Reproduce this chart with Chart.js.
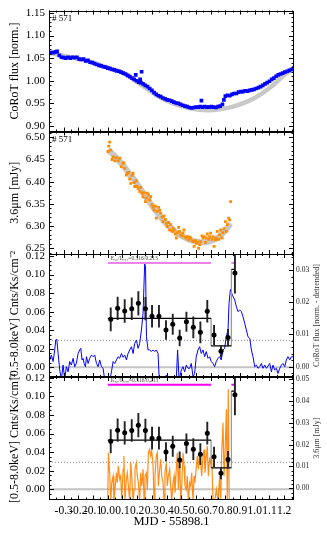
<!DOCTYPE html>
<html>
<head>
<meta charset="utf-8">
<title>#571 CoRoT / 3.6um / X-ray</title>
<script src="https://cdn.jsdelivr.net/npm/chart.js@4.4.1/dist/chart.umd.min.js"></script>
<style>
  html, body { margin: 0; padding: 0; background: #fff; }
  #stack { position: relative; width: 327px; height: 534px; }
  #stack canvas { position: absolute; left: 0; top: 0; }
</style>
</head>
<body>
<div id="stack">
  <canvas id="corot" width="327" height="534"></canvas>
  <canvas id="irac" width="327" height="534"></canvas>
  <canvas id="xrayCorot" width="327" height="534"></canvas>
  <canvas id="xrayIrac" width="327" height="534"></canvas>
</div>
<script>
// ---- data (MJD - 55898.1) ----
const X_MIN = -0.40, X_MAX = 1.267;
const xTicks = [-0.3, -0.2, -0.1, 0.0, 0.1, 0.2, 0.3, 0.4, 0.5, 0.6, 0.7, 0.8, 0.9, 1.0, 1.1, 1.2];

// CoRoT flux [norm.]
const corotX = [-0.400,-0.385,-0.370,-0.355,-0.345,-0.330,-0.315,-0.300,-0.285,-0.270,-0.255,-0.240,-0.225,-0.210,-0.195,-0.180,-0.165,-0.150,-0.135,-0.120,-0.105,-0.090,-0.075,-0.060,-0.045,-0.030,-0.015,0.000,0.015,0.030,0.045,0.060,0.075,0.090,0.105,0.120,0.135,0.150,0.165,0.180,0.190,0.195,0.210,0.220,0.225,0.230,0.240,0.255,0.270,0.285,0.300,0.315,0.330,0.345,0.360,0.375,0.390,0.405,0.420,0.435,0.450,0.465,0.480,0.495,0.510,0.525,0.540,0.555,0.570,0.585,0.600,0.615,0.630,0.637,0.645,0.660,0.675,0.690,0.705,0.720,0.735,0.750,0.765,0.780,0.790,0.800,0.815,0.830,0.845,0.860,0.875,0.890,0.905,0.920,0.935,0.950,0.965,0.980,0.995,1.010,1.025,1.040,1.055,1.070,1.085,1.100,1.115,1.130,1.145,1.160,1.175,1.190,1.205,1.220,1.235,1.250,1.265];
const corotY = [1.061,1.062,1.062,1.064,1.065,1.056,1.052,1.051,1.050,1.052,1.050,1.052,1.051,1.052,1.048,1.047,1.048,1.044,1.045,1.041,1.040,1.038,1.036,1.034,1.033,1.031,1.030,1.028,1.027,1.025,1.024,1.022,1.021,1.019,1.017,1.015,1.012,1.009,1.006,1.003,1.013,1.000,0.997,1.003,0.996,1.020,0.993,0.990,0.987,0.983,0.979,0.974,0.970,0.967,0.965,0.962,0.960,0.958,0.957,0.955,0.953,0.951,0.950,0.948,0.946,0.944,0.943,0.941,0.940,0.941,0.942,0.942,0.943,0.956,0.942,0.943,0.942,0.942,0.943,0.942,0.941,0.943,0.944,0.948,0.958,0.966,0.968,0.967,0.970,0.972,0.972,0.975,0.976,0.976,0.978,0.977,0.979,0.980,0.981,0.983,0.985,0.987,0.990,0.993,0.996,0.999,1.003,1.006,1.010,1.013,1.015,1.017,1.019,1.021,1.023,1.025,1.028];
const corotModelX = [-0.40,-0.30,-0.20,-0.10,0.00,0.10,0.20,0.30,0.40,0.50,0.60,0.70,0.80,0.90,1.00,1.10,1.20,1.267];
const corotModelY = [1.062,1.055,1.048,1.040,1.029,1.018,0.997,0.975,0.956,0.944,0.937,0.935,0.939,0.948,0.962,0.984,1.012,1.028];
const corotTicks = [0.90, 0.95, 1.00, 1.05, 1.10, 1.15];

// 3.6um [mJy]
const iracX = [0.002,0.006,0.013,0.020,0.029,0.036,0.047,0.058,0.070,0.081,0.092,0.104,0.108,0.115,0.126,0.133,0.142,0.149,0.156,0.165,0.172,0.178,0.183,0.194,0.199,0.206,0.217,0.224,0.233,0.240,0.246,0.256,0.262,0.269,0.278,0.285,0.292,0.301,0.308,0.315,0.324,0.330,0.337,0.346,0.353,0.360,0.369,0.376,0.383,0.392,0.398,0.405,0.414,0.421,0.428,0.437,0.444,0.451,0.460,0.466,0.473,0.482,0.489,0.496,0.505,0.512,0.518,0.527,0.534,0.541,0.550,0.557,0.564,0.573,0.580,0.587,0.596,0.602,0.609,0.618,0.625,0.632,0.641,0.648,0.655,0.664,0.670,0.677,0.686,0.693,0.700,0.709,0.716,0.723,0.732,0.738,0.745,0.754,0.761,0.768,0.777,0.784,0.791,0.800,0.807,0.813,0.822,0.829,0.836];
const iracY = [6.468,6.480,6.489,6.471,6.450,6.456,6.447,6.454,6.447,6.453,6.434,6.441,6.443,6.430,6.415,6.419,6.421,6.406,6.396,6.414,6.419,6.398,6.389,6.402,6.390,6.385,6.378,6.387,6.374,6.366,6.375,6.355,6.363,6.374,6.370,6.359,6.366,6.348,6.342,6.336,6.345,6.318,6.333,6.342,6.336,6.329,6.320,6.310,6.323,6.315,6.306,6.299,6.308,6.291,6.303,6.288,6.295,6.291,6.282,6.273,6.285,6.297,6.288,6.280,6.278,6.284,6.291,6.275,6.273,6.276,6.269,6.275,6.273,6.267,6.265,6.254,6.267,6.261,6.264,6.250,6.258,6.265,6.278,6.273,6.276,6.263,6.273,6.282,6.270,6.276,6.284,6.270,6.276,6.254,6.269,6.273,6.288,6.270,6.280,6.291,6.273,6.285,6.294,6.310,6.288,6.303,6.318,6.314,6.355];
const iracModelX = [0.00,0.05,0.10,0.15,0.20,0.25,0.30,0.35,0.40,0.45,0.50,0.55,0.60,0.65,0.70,0.75,0.80,0.835];
const iracModelY = [6.472,6.457,6.438,6.417,6.395,6.370,6.346,6.324,6.305,6.290,6.278,6.270,6.265,6.263,6.266,6.274,6.290,6.306];
const iracTicks = [6.25, 6.30, 6.35, 6.40, 6.45, 6.50];

// X-ray rate [0.5-8.0 keV] in 4 ks bins, with Bayesian-block levels
const xrayX = [0.020,0.067,0.115,0.163,0.208,0.256,0.301,0.348,0.396,0.442,0.489,0.535,0.582,0.630,0.677,0.723,0.770,0.818,0.865];
const xrayY = [0.0517,0.0636,0.0607,0.0632,0.0690,0.0632,0.0550,0.0550,0.0402,0.0464,0.0316,0.0492,0.0431,0.0377,0.0604,0.0349,0.0172,0.0320,0.1017];
const xrayErr = [0.0129,0.0126,0.0126,0.0122,0.0131,0.0126,0.0122,0.0122,0.0104,0.0113,0.0090,0.0108,0.0117,0.0117,0.0122,0.0108,0.0063,0.0093,0.0220];
const stepEdges = [0.000, 0.703, 0.841, 0.864, 0.950];
const stepLevels = [0.0528, 0.0230, 0.1056, 0.1600];
const bandStart = [0.000, 0.841];
const bandEnd = [0.703, 0.864];
const bandLevel = 0.1125;
const dottedLevel = 0.029;
const zeroLevel = 0.0;
const xrayTicks = [0.00, 0.02, 0.04, 0.06, 0.08, 0.10, 0.12];

// CoRoT flux [norm. - detrended]
const corotDetX = [-0.402,-0.395,-0.384,-0.372,-0.361,-0.354,-0.347,-0.338,-0.327,-0.316,-0.304,-0.293,-0.282,-0.270,-0.259,-0.248,-0.236,-0.225,-0.214,-0.202,-0.191,-0.184,-0.175,-0.168,-0.161,-0.152,-0.145,-0.134,-0.123,-0.111,-0.100,-0.089,-0.077,-0.066,-0.055,-0.043,-0.032,-0.021,0.002,0.014,0.025,0.036,0.047,0.059,0.070,0.081,0.093,0.104,0.115,0.127,0.138,0.149,0.161,0.172,0.183,0.195,0.206,0.217,0.229,0.240,0.251,0.257,0.263,0.274,0.285,0.297,0.308,0.319,0.330,0.342,0.350,0.376,0.399,0.421,0.466,0.475,0.485,0.501,0.512,0.523,0.534,0.546,0.557,0.568,0.580,0.591,0.602,0.614,0.625,0.636,0.648,0.659,0.670,0.682,0.693,0.704,0.716,0.727,0.738,0.750,0.761,0.772,0.784,0.795,0.806,0.818,0.825,0.834,0.848,0.864,0.875,0.886,0.898,0.909,0.920,0.932,0.943,0.954,0.966,0.977,0.988,1.000,1.011,1.022,1.034,1.045,1.056,1.068,1.079,1.090,1.102,1.113,1.124,1.136,1.147,1.158,1.170,1.181,1.192,1.204,1.215,1.226,1.238,1.249,1.260,1.267];
const corotDetY = [0.0024,0.0021,0.0036,0.0016,0.0052,0.0083,0.0085,0.0041,-0.0010,-0.0040,0.0005,-0.0040,0.0000,-0.0016,0.0016,0.0005,0.0026,0.0000,0.0010,0.0041,0.0052,0.0057,0.0021,0.0026,0.0010,0.0000,0.0031,0.0010,0.0026,0.0036,0.0031,0.0036,0.0010,0.0000,0.0021,0.0000,-0.0005,-0.0040,-0.0040,-0.0040,-0.0016,0.0016,0.0010,0.0021,0.0031,0.0026,0.0041,0.0029,0.0036,0.0021,0.0041,0.0052,0.0062,0.0041,0.0072,0.0083,0.0057,0.0072,0.0114,0.0166,0.0320,0.0310,0.0093,0.0052,0.0052,0.0047,0.0052,0.0047,0.0052,0.0041,-0.0040,-0.0040,-0.0026,-0.0040,-0.0040,0.0052,-0.0040,-0.0010,0.0000,-0.0016,0.0005,-0.0005,-0.0005,0.0010,-0.0031,-0.0021,0.0031,0.0052,0.0062,0.0041,0.0052,0.0031,0.0047,0.0026,0.0031,0.0016,0.0010,0.0000,0.0016,0.0026,0.0031,0.0021,0.0052,0.0057,0.0093,0.0114,0.0197,0.0240,0.0222,0.0207,0.0186,0.0171,0.0176,0.0171,0.0155,0.0134,0.0114,0.0093,0.0088,0.0052,0.0031,0.0000,0.0005,-0.0005,0.0000,0.0010,-0.0005,0.0005,-0.0005,0.0002,0.0010,-0.0016,0.0005,-0.0010,-0.0005,-0.0021,-0.0005,0.0005,0.0010,0.0000,0.0021,0.0031,0.0021,0.0031,0.0031,0.0036];
const corotDetTicks = [0.00, 0.01, 0.02, 0.03];

// 3.6um [mJy] detrended
const iracDetX = [0.000,0.004,0.014,0.020,0.027,0.036,0.042,0.049,0.059,0.065,0.072,0.081,0.088,0.095,0.104,0.110,0.117,0.126,0.133,0.140,0.149,0.156,0.163,0.172,0.179,0.185,0.194,0.201,0.208,0.217,0.224,0.231,0.240,0.247,0.253,0.262,0.269,0.276,0.285,0.292,0.299,0.308,0.315,0.321,0.330,0.337,0.344,0.353,0.360,0.367,0.376,0.383,0.389,0.398,0.405,0.412,0.421,0.428,0.435,0.444,0.451,0.457,0.466,0.473,0.480,0.489,0.496,0.503,0.512,0.519,0.525,0.534,0.541,0.548,0.557,0.564,0.571,0.580,0.587,0.593,0.603,0.609,0.616,0.625,0.632,0.639,0.648,0.655,0.661,0.671,0.677,0.684,0.693,0.700,0.707,0.716,0.727,0.739,0.750,0.761,0.768,0.775,0.784,0.791,0.798,0.807,0.813,0.820,0.826];
const iracDetY = [-0.006,0.0163,0.0056,-0.006,0.0026,0.0056,-0.006,-0.0005,0.0071,0.0026,0.0102,0.0041,0.0056,-0.006,0.0087,0.0148,-0.006,0.0041,0.0071,0.0011,-0.006,0.0117,0.0056,-0.006,-0.0005,0.0087,0.0117,0.0056,0.0026,-0.006,0.0071,0.0011,0.0087,-0.006,0.0056,0.0071,-0.0005,0.0163,0.0178,0.0148,0.0171,0.0102,-0.006,0.0056,0.0148,0.0163,0.0011,0.0087,0.0133,0.0056,0.0026,-0.006,0.0071,0.0117,0.0011,0.0056,0.0087,0.0011,-0.006,0.0026,0.0056,-0.0020,0.0087,0.0163,-0.0005,0.0148,-0.006,0.0011,0.0163,0.0102,0.0011,-0.0005,0.0056,-0.006,0.0026,0.0011,0.0071,-0.006,0.0056,0.0026,0.0102,0.0148,0.0087,0.0163,0.0117,0.0056,0.0148,0.0178,0.0071,0.0148,0.0194,0.0056,0.0133,0.0117,0.0148,-0.006,-0.006,-0.0005,-0.006,0.0056,-0.006,0.0163,0.0300,0.0056,0.0163,0.0361,-0.006,0.0453,-0.006];
const iracDetTicks = [0.00, 0.01, 0.02, 0.03, 0.04, 0.05];

// ---- helpers ----
Chart.defaults.font.family = 'Liberation Serif';
Chart.defaults.color = '#000';
const serif = size => ({ family: 'Liberation Serif', size });
const pairs = (xs, ys) => xs.map((x, i) => ({ x, y: ys[i] }));
const hline = v => [{ x: X_MIN, y: v }, { x: X_MAX, y: v }];

function errorBars() {
  const out = [];
  xrayX.forEach((x, i) => {
    out.push({ x, y: xrayY[i] - xrayErr[i] }, { x, y: xrayY[i] + xrayErr[i] }, { x, y: null });
  });
  return out;
}
function stepFlat() {
  const out = [];
  stepLevels.forEach((lv, i) => {
    out.push({ x: stepEdges[i], y: lv }, { x: stepEdges[i + 1], y: lv }, { x: stepEdges[i + 1], y: null });
  });
  return out;
}
function stepRise() {
  const out = [];
  for (let i = 1; i < stepLevels.length; i++) {
    out.push({ x: stepEdges[i], y: stepLevels[i - 1] }, { x: stepEdges[i], y: stepLevels[i] }, { x: stepEdges[i], y: null });
  }
  return out;
}
function bands() {
  const out = [];
  bandStart.forEach((s, i) => out.push({ x: s, y: bandLevel }, { x: bandEnd[i], y: bandLevel }, { x: s, y: null }));
  return out;
}

// inward tick marks, frame and the small annotations
const framePlugin = {
  id: 'frame',
  afterDatasetsDraw(chart, args, o) {
    const { ctx, chartArea: a, scales } = chart;
    const line = (x1, y1, x2, y2) => { ctx.beginPath(); ctx.moveTo(x1, y1); ctx.lineTo(x2, y2); ctx.stroke(); };
    const marks = (scale, step, fn) => {
      for (let k = Math.ceil(scale.min / step - 1e-6); k * step <= scale.max + 1e-9; k++) {
        fn(Math.round(scale.getPixelForValue(k * step)) + 0.5);
      }
    };
    ctx.save();
    ctx.strokeStyle = '#000';
    ctx.lineWidth = 1;
    [[0.05, 2], [0.1, 4]].forEach(([step, len]) => marks(scales.x, step, p => {
      line(p, a.bottom, p, a.bottom - len);
      line(p, a.top, p, a.top + len);
    }));
    const yr = scales.y2 || scales.y;
    [[o.yMinor, 2.5], [o.yMajor, 5]].forEach(([step, len]) => marks(scales.y, step, p => line(a.left, p, a.left + len, p)));
    [[o.y2Minor || o.yMinor, 2.5], [o.y2Major || o.yMajor, 5]].forEach(([step, len]) => marks(yr, step, p => line(a.right, p, a.right - len, p)));
    ctx.strokeRect(Math.round(a.left) + 0.5, Math.round(a.top) + 0.5, Math.round(a.right - a.left) - 1, Math.round(a.bottom - a.top) - 1);

    ctx.fillStyle = '#000';
    if (o.corner) {
      ctx.font = '9px "Liberation Serif"';
      ctx.textAlign = 'left';
      ctx.textBaseline = 'alphabetic';
      ctx.fillText(o.corner, a.left + 3, a.top + 10);
    }
    if (o.rightTitle) {
      ctx.save();
      ctx.translate(316.5, (a.top + a.bottom) / 2);
      ctx.rotate(-Math.PI / 2);
      ctx.font = '8px "Liberation Serif"';
      ctx.fillStyle = '#333';
      ctx.textAlign = 'center';
      ctx.textBaseline = 'middle';
      ctx.fillText(o.rightTitle, 0, 0);
      ctx.restore();
    }
    if (o.note) {
      ctx.font = '5.5px "Liberation Serif"';
      ctx.fillStyle = '#444';
      ctx.textAlign = 'left';
      ctx.textBaseline = 'alphabetic';
      ctx.fillText(o.note, scales.x.getPixelForValue(0.02), scales.y.getPixelForValue(bandLevel) - 2.5);
    }
    ctx.restore();
  }
};

function xAxis(bottom) {
  const ax = {
    type: 'linear', min: X_MIN, max: X_MAX, display: bottom,
    afterBuildTicks: s => { s.ticks = xTicks.map(v => ({ value: v })); },
    grid: { display: false, drawTicks: false }, border: { display: false },
    ticks: { autoSkip: false, maxRotation: 0, minRotation: 0, padding: 5, font: serif(11.5), color: '#000', callback: v => v.toFixed(1) },
    title: { display: true, text: 'MJD - 55898.1', font: serif(12.5), color: '#000', padding: { top: 0, bottom: 5 } }
  };
  if (bottom) ax.afterFit = s => { s.height = 34.5; };
  return ax;
}
function leftAxis(min, max, ticks, title) {
  return {
    type: 'linear', position: 'left', min, max,
    afterBuildTicks: s => { s.ticks = ticks.map(v => ({ value: v })); },
    afterFit: s => { s.width = 49; },
    grid: { display: false, drawTicks: false }, border: { display: false },
    ticks: { padding: 4, font: serif(11), color: '#000', callback: v => v.toFixed(2) },
    title: { display: true, text: title, font: serif(12), color: '#000', padding: { top: 8, bottom: 0 } }
  };
}
function rightAxis(min, max, ticks) {
  return {
    type: 'linear', position: 'right', min, max,
    afterBuildTicks: s => { s.ticks = ticks.map(v => ({ value: v })); },
    afterFit: s => { s.width = 33; },
    grid: { display: false, drawTicks: false }, border: { display: false },
    ticks: { padding: 2, font: serif(7.5), color: '#222', callback: v => v.toFixed(2) }
  };
}

function panel(id, top, bottom, scales, datasets, frame) {
  return new Chart(document.getElementById(id), {
    type: 'scatter',
    data: { datasets },
    options: {
      responsive: false,
      animation: false,
      events: [],
      layout: { padding: { top, bottom, left: 0, right: scales.y2 ? 0 : 33 } },
      scales,
      plugins: { legend: { display: false }, tooltip: { enabled: false }, frame }
    },
    plugins: [framePlugin]
  });
}

function xrayDatasets(bandColor, curve, curveColor, curveWidth) {
  return [
    { data: pairs(xrayX, xrayY), pointRadius: 2.5, pointBackgroundColor: '#000', pointBorderWidth: 0 },
    { data: errorBars(), showLine: true, borderColor: '#222', borderWidth: 1.9, pointRadius: 0 },
    { data: stepFlat(), showLine: true, borderColor: '#000', borderWidth: 1.3, pointRadius: 0 },
    { data: stepRise(), showLine: true, borderColor: '#9a9a9a', borderWidth: 1.3, pointRadius: 0 },
    { data: bands(), showLine: true, borderColor: bandColor, borderWidth: 2, pointRadius: 0 },
    { data: curve, yAxisID: 'y2', showLine: true, borderColor: curveColor, borderWidth: curveWidth, pointRadius: 0 },
    { data: hline(dottedLevel), showLine: true, borderColor: '#888', borderWidth: 1, borderDash: [1, 2], pointRadius: 0 },
    { data: hline(zeroLevel), showLine: true, borderColor: '#c4c4c4', borderWidth: 2, pointRadius: 0 }
  ];
}

// ---- panels ----
panel('corot', 8, 534 - 131.5,
  { x: xAxis(false), y: leftAxis(0.888, 1.155, corotTicks, 'CoRoT flux [norm.]') },
  [
    { data: pairs(corotX, corotY), pointStyle: 'rect', pointRadius: 2.6, pointBackgroundColor: '#0000ff', pointBorderWidth: 0 },
    { data: pairs(corotModelX, corotModelY), showLine: true, tension: 0.4, borderColor: '#c8c8c8', borderWidth: 4.5, pointRadius: 0 }
  ],
  { yMajor: 0.05, yMinor: 0.01, corner: '# 571' });

panel('irac', 131.5, 534 - 254,
  { x: xAxis(false), y: leftAxis(6.237, 6.513, iracTicks, '3.6\u03bcm [mJy]') },
  [
    { data: pairs(iracX, iracY), pointStyle: 'rect', pointRadius: 2, pointBackgroundColor: '#ff8c00', pointBorderWidth: 0 },
    { data: pairs(iracModelX, iracModelY), showLine: true, tension: 0.4, borderColor: '#c8c8c8', borderWidth: 6, pointRadius: 0 }
  ],
  { yMajor: 0.05, yMinor: 0.01, corner: '# 571' });

panel('xrayCorot', 254, 534 - 377,
  { x: xAxis(false), y: leftAxis(-0.0105, 0.1222, xrayTicks, '[0.5-8.0keV] Cnts/Ks/cm\u207b\u00b2'), y2: rightAxis(-0.0032, 0.0350, corotDetTicks) },
  xrayDatasets('#ee82ee', pairs(corotDetX, corotDetY), '#0000ff', 1),
  { yMajor: 0.02, yMinor: 0.005, y2Major: 0.01, y2Minor: 0.002, rightTitle: 'CoRoT flux [norm. - detrended]', note: 'E\u2085\u2080/I\u1d62\u2099\u1d62,\u2080=0.516/0.213' });

panel('xrayIrac', 377, 0,
  { x: xAxis(true), y: leftAxis(-0.011, 0.1208, xrayTicks, '[0.5-8.0keV] Cnts/Ks/cm\u207b\u00b2'), y2: rightAxis(-0.0051, 0.0509, iracDetTicks) },
  xrayDatasets('#ff00ff', pairs(iracDetX, iracDetY), 'rgba(255,130,0,0.9)', 1.2),
  { yMajor: 0.02, yMinor: 0.005, y2Major: 0.01, y2Minor: 0.002, rightTitle: '3.6\u03bcm [mJy]', note: 'K\u2085\u2080/I\u1d62\u2099\u1d62,\u2080=0.516/0.213' });
</script>
</body>
</html>
